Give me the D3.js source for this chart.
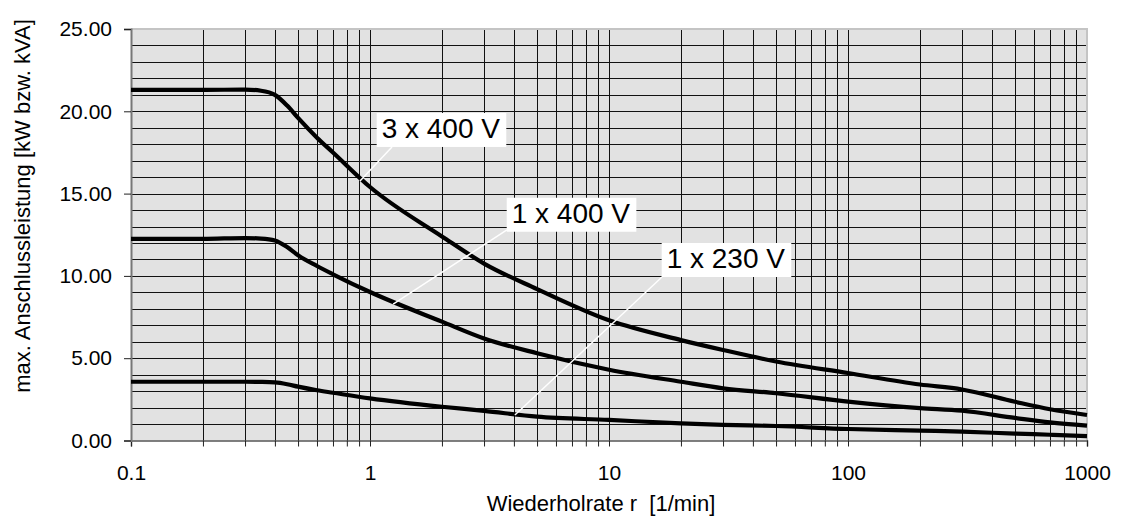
<!DOCTYPE html>
<html lang="de">
<head>
    <meta charset="UTF-8">
    <title>Anschlussleistung</title>
    <script src="https://d3js.org/d3.v7.min.js"></script>
    <style>
        body { margin: 0; background: #fff; }
        text { font-family: "Liberation Sans", Arial, sans-serif; fill: #000; }
    </style>
</head>
<body>
    <svg></svg>
    <script>
        const width = 1125;
        const height = 517;
        const margin = {left: 131, right: 38, top: 29, bottom: 76.5};
        const w = width - margin.left - margin.right;
        const h = height - margin.top - margin.bottom;

        // Wiederholrate r [1/min]
        const rate = [0.1, 0.2, 0.3, 0.35, 0.4, 0.45, 0.5, 0.6, 0.7, 1, 2, 3, 5, 10, 20, 30, 50, 100, 200, 300, 500, 700, 1000];
        // max. Anschlussleistung [kW bzw. kVA]
        const p3x400 = [21.3, 21.3, 21.32, 21.25, 21.0, 20.35, 19.6, 18.4, 17.5, 15.4, 12.4, 10.75, 9.2, 7.3, 6.1, 5.5, 4.8, 4.1, 3.4, 3.1, 2.35, 1.9, 1.55];
        const p1x400 = [12.25, 12.25, 12.3, 12.27, 12.15, 11.75, 11.25, 10.6, 10.1, 9.02, 7.22, 6.2, 5.3, 4.3, 3.57, 3.17, 2.87, 2.36, 1.97, 1.81, 1.37, 1.1, 0.9];
        const p1x230 = [3.57, 3.57, 3.57, 3.56, 3.53, 3.42, 3.27, 3.05, 2.9, 2.56, 2.05, 1.8, 1.45, 1.25, 1.04, 0.95, 0.88, 0.7, 0.6, 0.54, 0.42, 0.35, 0.27];

        const xTicks = [0.1, 1, 10, 100, 1000];
        const yTicks = [0, 5, 10, 15, 20, 25];

        // Beschriftungen: Textposition und Hinweislinie in Datenkoordinaten
        const labels = [
            {text: "3 x 400 V", x: 1.119, y: 18.38, from: [1.236, 17.83], to: [0.908, 15.77]},
            {text: "1 x 400 V", x: 3.917, y: 13.23, from: [3.74, 12.79], to: [1.25, 8.29]},
            {text: "1 x 230 V", x: 17.43, y: 10.48, from: [16.66, 9.93], to: [4.04, 1.55]}
        ];

        const series = [p3x400, p1x400, p1x230];

        const svg = d3.select("svg")
            .attr("width", width)
            .attr("height", height);

        const x = d3.scaleLog()
            .domain([0.1, 1000])
            .range([0, w]);

        const y = d3.scaleLinear()
            .domain([0, 25])
            .range([h, 0]);

        const g = svg.append("g")
            .attr("transform", `translate(${margin.left}, ${margin.top})`);

        // Hintergrund
        g.append("rect")
            .attr("width", w)
            .attr("height", h)
            .attr("fill", "#e2e2e2");

        // Gitter
        const minorX = [];
        for (let d = 0.1; d < 1000; d *= 10) {
            for (let k = 1; k <= 9; k++) minorX.push(+(d * k).toPrecision(3));
        }
        minorX.push(1000);
        const minorY = d3.range(0, 26, 1);

        g.append("g")
            .selectAll("line")
            .data(minorX.slice(1, -1))
            .join("line")
                .attr("x1", d => Math.round(x(d)) + 0.5)
                .attr("x2", d => Math.round(x(d)) + 0.5)
                .attr("y1", 0)
                .attr("y2", h)
                .attr("stroke", "#111")
                .attr("stroke-width", 1);

        g.append("g")
            .selectAll("line")
            .data(minorY.slice(1, -1))
            .join("line")
                .attr("x1", 0)
                .attr("x2", w)
                .attr("y1", d => Math.round(y(d)) + 0.5)
                .attr("y2", d => Math.round(y(d)) + 0.5)
                .attr("stroke", "#111")
                .attr("stroke-width", 1);

        // Rahmen oben/rechts
        g.append("path")
            .attr("d", `M0,0H${w}V${h}`)
            .attr("fill", "none")
            .attr("stroke", "#c4c4c4")
            .attr("stroke-width", 2);

        // x-Achse
        const xAxis = g.append("g")
            .attr("transform", `translate(0, ${h})`)
            .call(d3.axisBottom(x)
                .tickValues(minorX)
                .tickSize(6)
                .tickPadding(19)
                .tickFormat(d => xTicks.includes(d) ? String(d) : ""));
        xAxis.select(".domain").attr("stroke", "#555").attr("stroke-width", 1.5);
        xAxis.selectAll(".tick line").attr("stroke", "#222");
        xAxis.selectAll("text").style("font-size", "21px");

        // y-Achse
        const yAxis = g.append("g")
            .call(d3.axisLeft(y)
                .tickValues(yTicks)
                .tickSize(7)
                .tickPadding(12)
                .tickFormat(d3.format(".2f")));
        yAxis.select(".domain").attr("stroke", "#777").attr("stroke-width", 2);
        yAxis.selectAll(".tick line").attr("stroke", "#222");
        yAxis.selectAll("text").style("font-size", "21px");

        // Kurven
        const line = d3.line()
            .x((d, i) => x(rate[i]))
            .y(d => y(d))
            .curve(d3.curveMonotoneX);

        g.append("g")
            .selectAll("path")
            .data(series)
            .join("path")
                .attr("d", line)
                .attr("fill", "none")
                .attr("stroke", "#000")
                .attr("stroke-width", 4.2)
                .attr("stroke-linejoin", "round");

        // Beschriftungen
        labels.forEach(l => {
            g.append("line")
                .attr("x1", x(l.from[0]))
                .attr("y1", y(l.from[1]))
                .attr("x2", x(l.to[0]))
                .attr("y2", y(l.to[1]))
                .attr("stroke", "#fff")
                .attr("stroke-width", 1.5);
            const box = g.append("rect").attr("fill", "#fff");
            const t = g.append("text")
                .attr("x", x(l.x))
                .attr("y", y(l.y))
                .style("font-size", "28px")
                .text(l.text);
            const bb = t.node().getBBox();
            box.attr("x", bb.x - 5)
                .attr("y", bb.y)
                .attr("width", bb.width + 11)
                .attr("height", bb.height + 3);
        });

        // Achsentitel
        svg.append("text")
            .attr("x", margin.left + w / 2 - 8)
            .attr("y", 511)
            .attr("text-anchor", "middle")
            .style("font-size", "22px")
            .style("white-space", "pre")
            .text("Wiederholrate r  [1/min]");

        svg.append("text")
            .attr("transform", "translate(30, 206) rotate(-90)")
            .attr("text-anchor", "middle")
            .style("font-size", "22px")
            .text("max. Anschlussleistung [kW bzw. kVA]");
    </script>
</body>
</html>
